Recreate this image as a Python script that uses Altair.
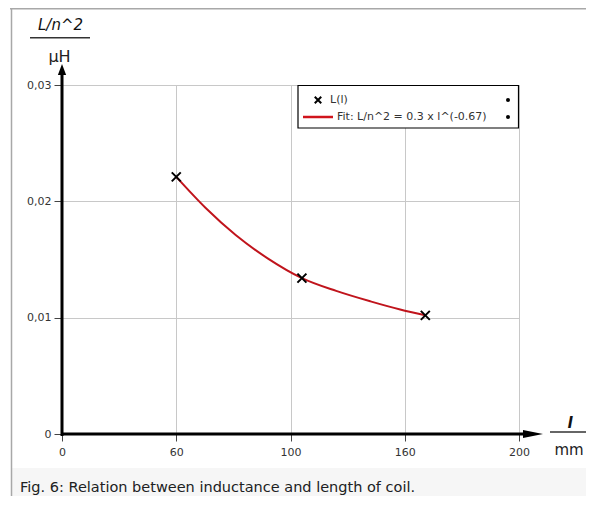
import altair as alt
import pandas as pd

# ---- data ----
L_MM = [50, 105, 159]                      # coil length l (mm)
L_N2 = [0.0221, 0.0134, 0.0102]            # L/n^2 (µH)
FIT_L = [50, 63, 76, 90, 105, 120, 135, 148, 159]
FIT_V = [0.0221, 0.0194, 0.0171, 0.0151, 0.0134, 0.0123, 0.0114, 0.0107, 0.0102]

X_TICKS = [0, 50, 100, 150, 200]
X_TICK_LABELS = ["0", "60", "100", "160", "200"]
Y_TICKS = [0, 0.01, 0.02, 0.03]
Y_TICK_LABELS = ["0", "0,01", "0,02", "0,03"]

Y_TITLE = "L/n^2"
Y_UNIT = "µH"
X_TITLE = "l"
X_UNIT = "mm"
LEGEND_POINTS = "L(l)"
LEGEND_FIT = "Fit: L/n^2 = 0.3 x l^(-0.67)"
CAPTION = "Fig. 6: Relation between inductance and length of coil."

W, H = 457, 349
PAD = {"left": 54, "top": 77, "right": 67, "bottom": 62}
BOTTOM = H + PAD["bottom"]
RIGHT = W + PAD["right"]
one = pd.DataFrame({"k": [0]})

pts = pd.DataFrame({"l": L_MM, "v": L_N2})
fit = pd.DataFrame({"l": FIT_L, "v": FIT_V})

xlab = "{" + ",".join(f"'{v}':'{t}'" for v, t in zip(X_TICKS, X_TICK_LABELS)) + "}"
ylab = "{" + ",".join(f"'{v}':'{t}'" for v, t in zip(Y_TICKS, Y_TICK_LABELS)) + "}"

xscale = alt.Scale(domain=[0, 200], nice=False, zero=False)
yscale = alt.Scale(domain=[0, 0.03], nice=False, zero=False)

xaxis = alt.Axis(values=X_TICKS, labelExpr=f"{xlab}[''+datum.value]", title=None,
                 domain=False, tickSize=7, tickColor="#444", labelPadding=5,
                 labelFont="DejaVu Sans", labelFontSize=11, labelColor="#333",
                 grid=True, gridColor="#c8c8c8", labelFlush=False)
yaxis = alt.Axis(values=Y_TICKS, labelExpr=f"{ylab}[''+datum.value]", title=None,
                 domain=False, tickSize=8, tickColor="#444", labelPadding=3,
                 labelFont="DejaVu Sans", labelFontSize=11, labelColor="#333",
                 grid=True, gridColor="#c8c8c8", labelFlush=False)

def rule(x, x2, y, y2, color, w):
    return alt.Chart(one).mark_rule(color=color, strokeWidth=w).encode(
        x=alt.value(x), x2=alt.value(x2), y=alt.value(y), y2=alt.value(y2))

def text(s, x, y, size, align="left", baseline="alphabetic", style="normal",
         weight="normal", color="#222", font="DejaVu Sans"):
    return alt.Chart(one).mark_text(text=s, align=align, baseline=baseline,
                                    fontSize=size, fontStyle=style, fontWeight=weight,
                                    color=color, font=font).encode(
        x=alt.value(x), y=alt.value(y))

def dot(x, y, shape, size, filled=True, sw=1):
    return alt.Chart(one).mark_point(shape=shape, size=size, filled=filled, color="black",
                                     strokeWidth=sw, opacity=1).encode(
        x=alt.value(x), y=alt.value(y))

# frame and caption
cap_bg = alt.Chart(one).mark_rect(color="#f6f6f6").encode(
    x=alt.value(-50), x2=alt.value(RIGHT + 5), y=alt.value(383), y2=alt.value(BOTTOM + 5))
frame_top = rule(-52, RIGHT + 5, -76.3, -76.3, "#a8a8a8", 1.5)
frame_left = rule(-50.5, -50.5, -77, BOTTOM + 5, "#a8a8a8", 1.5)
caption = text(CAPTION, -42, BOTTOM - 4, 14.5, color="#202122")

# data layers
curve = alt.Chart(fit).mark_line(color="#c0141c", strokeWidth=2, interpolate="monotone").encode(
    x=alt.X("l:Q", scale=xscale, axis=xaxis),
    y=alt.Y("v:Q", scale=yscale, axis=yaxis))
marks = alt.Chart(pts).mark_point(shape="M-1,-1L1,1M-1,1L1,-1", size=81, color="black",
                                  strokeWidth=2, filled=False, opacity=1).encode(
    x=alt.X("l:Q", scale=xscale, axis=xaxis),
    y=alt.Y("v:Q", scale=yscale, axis=yaxis))

# thick axes with arrows
yline = rule(0, 0, 351, -10, "black", 3)
xline = rule(-1, 462, H, H, "black", 3)
yarrow = dot(0, -15.5, "M0,-1L0.75,1L-0.75,1Z", 121)
xarrow = dot(471, H, "M1,0L-1,-0.4L-1,0.4Z", 400)

# axis titles as fractions
ytitle = text(Y_TITLE, -1.5, -55, 15, align="center", style="italic", color="#111")
yfrac = rule(-32, 28, -47.3, -47.3, "#333", 1.5)
yunit = text(Y_UNIT, -2.5, -23, 16, align="center", color="#222")
xtitle = text(X_TITLE, 508, 343, 15, align="center", style="italic", weight="bold", color="#111")
xfrac = rule(488, 524, 347, 347, "#333", 1.5)
xunit = text(X_UNIT, 507, 370, 15, align="center", color="#222")

# legend
leg_box = alt.Chart(one).mark_rect(fill="white", stroke="black", strokeWidth=1.2).encode(
    x=alt.value(236), x2=alt.value(456.5), y=alt.value(0.5), y2=alt.value(43))
leg_x = dot(256, 15, "M-1,-1L1,1M-1,1L1,-1", 42, filled=False, sw=2)
leg_t1 = text(LEGEND_POINTS, 268, 15, 11, baseline="middle", color="#333")
leg_line = rule(241, 271, 32, 32, "#d0141c", 2.5)
leg_t2 = text(LEGEND_FIT, 275, 32, 11, baseline="middle", color="#333")
leg_d1 = dot(446, 15, "circle", 16)
leg_d2 = dot(446, 32, "circle", 16)

chart = alt.layer(
    cap_bg, frame_top, frame_left, caption,
    curve, marks, yline, xline, yarrow, xarrow,
    ytitle, yfrac, yunit, xtitle, xfrac, xunit,
    leg_box, leg_x, leg_t1, leg_line, leg_t2, leg_d1, leg_d2,
).properties(
    width=W, height=H,
    autosize=alt.AutoSizeParams(type="none"),
    padding=PAD,
).configure_view(stroke=None).configure(background="white")

chart.save("out.html", embed_options={"renderer": "svg", "actions": False})
